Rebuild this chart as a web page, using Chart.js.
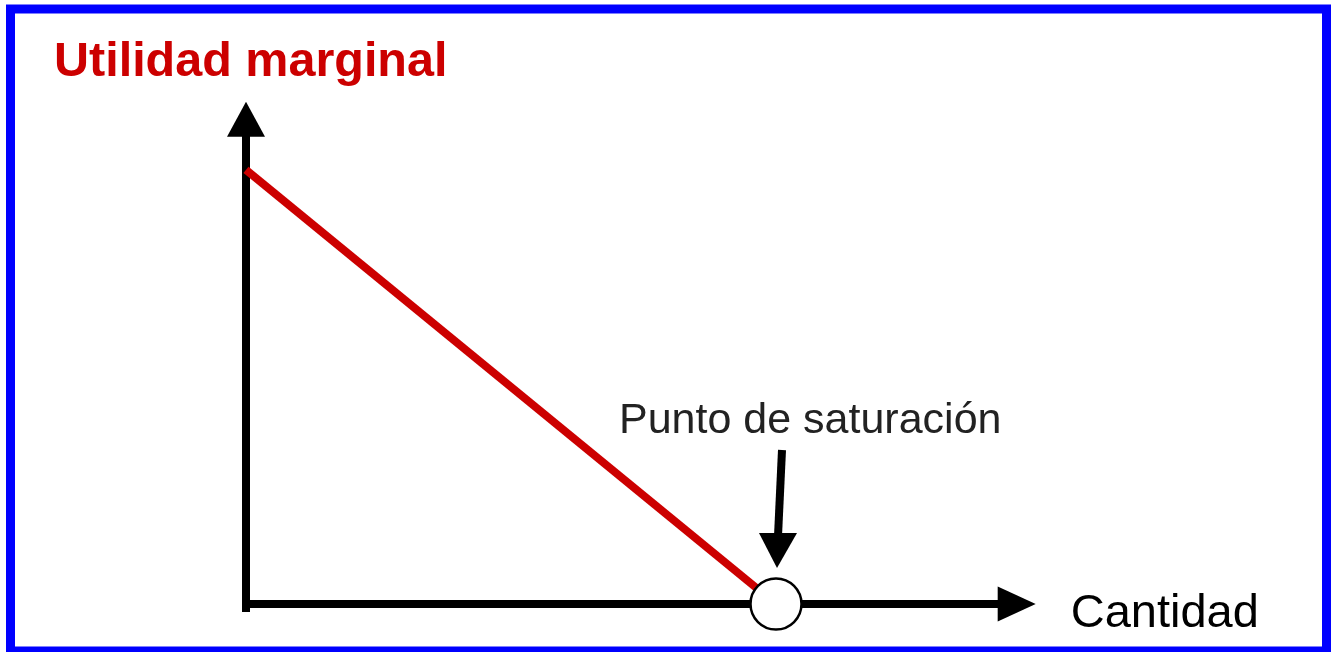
<!DOCTYPE html>
<html>
<head>
<meta charset="utf-8">
<script src="https://cdn.jsdelivr.net/npm/chart.js@4.4.0/dist/chart.umd.min.js"></script>
<style>
  body { margin: 0; background: #fff; }
  #wrap { width: 1333px; height: 652px; position: relative; }
</style>
</head>
<body>
<div id="wrap"><canvas id="grafico"></canvas></div>
<script>
// datos
const cantidad = [0, 10];
const utilidad = [10, 0];
const saturacion = [10, 0];   // x, y del punto de saturacion
const ejeX = [0, 14.9];       // hasta la punta de la flecha
const ejeY = [0, 11.57];

const titulo = "Utilidad marginal";
const etiquetaX = "Cantidad";
const etiquetaPunto = "Punto de saturación";

const rojo = "#cc0000";

// dibuja marco, ejes, flechas y textos
const dibujo = {
  id: "dibujo",
  beforeDatasetsDraw(chart) {
    const ctx = chart.ctx;
    const x = chart.scales.x, y = chart.scales.y;
    const x0 = x.getPixelForValue(0), y0 = y.getPixelForValue(0);
    const xFin = x.getPixelForValue(ejeX[1]);
    const yFin = y.getPixelForValue(ejeY[1]);
    ctx.save();
    ctx.strokeStyle = "#000";
    ctx.fillStyle = "#000";
    ctx.lineWidth = 8;
    ctx.lineCap = "butt";
    // eje y
    ctx.beginPath();
    ctx.moveTo(x0, y0 + 8);
    ctx.lineTo(x0, yFin + 34);
    ctx.stroke();
    ctx.beginPath();
    ctx.moveTo(x0, yFin);
    ctx.lineTo(x0 - 19, yFin + 35);
    ctx.lineTo(x0 + 19, yFin + 35);
    ctx.closePath();
    ctx.fill();
    // eje x
    ctx.beginPath();
    ctx.moveTo(x0 - 4, y0);
    ctx.lineTo(xFin - 37, y0);
    ctx.stroke();
    ctx.beginPath();
    ctx.moveTo(xFin, y0);
    ctx.lineTo(xFin - 38, y0 - 17.5);
    ctx.lineTo(xFin - 38, y0 + 17.5);
    ctx.closePath();
    ctx.fill();
    ctx.restore();
  },
  afterDraw(chart) {
    const ctx = chart.ctx;
    const x = chart.scales.x, y = chart.scales.y;
    const xFin = x.getPixelForValue(ejeX[1]);
    const y0 = y.getPixelForValue(0);
    const px = x.getPixelForValue(saturacion[0]);
    const py = y.getPixelForValue(saturacion[1]);
    ctx.save();
    // marco azul
    ctx.strokeStyle = "#0000ff";
    ctx.lineWidth = 9;
    ctx.strokeRect(10.5, 9, 1316, 642);
    // flecha hacia el punto
    ctx.strokeStyle = "#000";
    ctx.fillStyle = "#000";
    ctx.lineWidth = 8;
    ctx.beginPath();
    ctx.moveTo(px + 6, py - 154);
    ctx.lineTo(px + 2, py - 68);
    ctx.stroke();
    ctx.beginPath();
    ctx.moveTo(px + 1, py - 36);
    ctx.lineTo(px - 17, py - 71);
    ctx.lineTo(px + 21, py - 71);
    ctx.closePath();
    ctx.fill();
    // textos
    ctx.textBaseline = "alphabetic";
    ctx.textAlign = "left";
    ctx.fillStyle = rojo;
    ctx.font = "bold 48.5px 'Liberation Sans', Arial, sans-serif";
    ctx.fillText(titulo, 54, 76);
    ctx.fillStyle = "#222";
    ctx.font = "43px 'Liberation Sans', Arial, sans-serif";
    ctx.fillText(etiquetaPunto, 619, 433);
    ctx.fillStyle = "#000";
    ctx.font = "47px 'Liberation Sans', Arial, sans-serif";
    ctx.fillText(etiquetaX, xFin + 35, y0 + 23);
    ctx.restore();
  }
};

new Chart(document.getElementById("grafico"), {
  type: "scatter",
  data: {
    datasets: [
      {
        data: [{ x: saturacion[0], y: saturacion[1] }],
        pointRadius: 25.5,
        pointHoverRadius: 25.5,
        pointBackgroundColor: "#fff",
        pointBorderColor: "#000",
        pointBorderWidth: 2.5,
        clip: false,
        order: 0
      },
      {
        data: cantidad.map((c, i) => ({ x: c, y: utilidad[i] })),
        showLine: true,
        borderColor: rojo,
        borderWidth: 8,
        pointRadius: 0,
        clip: false,
        order: 1
      }
    ]
  },
  options: {
    responsive: true,
    maintainAspectRatio: false,
    animation: false,
    events: [],
    layout: { padding: { left: 246, right: 292, top: 83, bottom: 48 } },
    scales: {
      x: { type: "linear", min: 0, max: 15, display: false },
      y: { type: "linear", min: 0, max: 12, display: false }
    },
    plugins: {
      legend: { display: false },
      tooltip: { enabled: false }
    }
  },
  plugins: [dibujo]
});
</script>
</body>
</html>
